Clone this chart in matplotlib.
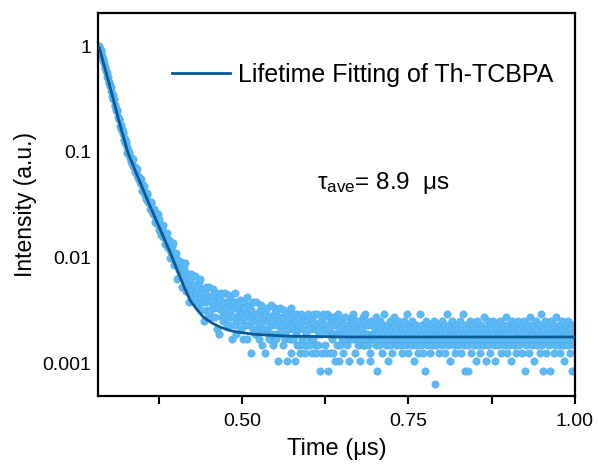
import numpy as np
import matplotlib
matplotlib.use("Agg")
import matplotlib.pyplot as plt
from matplotlib.ticker import FixedLocator, NullFormatter

plt.rcParams['font.family'] = ['Liberation Sans', 'DejaVu Sans']
plt.rcParams['mathtext.fontset'] = 'custom'
plt.rcParams['mathtext.rm'] = 'Liberation Sans'
plt.rcParams['mathtext.it'] = 'Liberation Sans:italic'

# measured decay: photon counts per channel, 0.001 us per channel
t_start = 0.286
t_step = 0.001
counts = np.array([
    4760, 4436, 4322, 4140, 3805, 3571, 3441, 3318, 2991, 2952,
    2754, 2666, 2445, 2447, 2164, 2123, 1973, 1933, 1790, 1621,
    1631, 1506, 1490, 1330, 1295, 1185, 1171, 1149, 1015, 976,
    963, 830, 848, 784, 777, 697, 733, 615, 627, 575,
    583, 532, 466, 497, 454, 473, 412, 418, 380, 396,
    405, 349, 345, 340, 304, 327, 328, 284, 266, 273,
    268, 245, 261, 236, 201, 230, 209, 225, 187, 194,
    171, 185, 194, 158, 160, 159, 137, 155, 159, 131,
    122, 129, 137, 102, 122, 110, 118, 98, 122, 86,
    110, 85, 92, 78, 90, 97, 75, 76, 78, 64,
    78, 81, 64, 58, 64, 70, 47, 62, 54, 61,
    47, 65, 40, 50, 43, 52, 43, 30, 45, 38,
    36, 32, 37, 43, 25, 37, 32, 37, 28, 42,
    23, 32, 26, 33, 27, 18, 30, 24, 33, 21,
    26, 19, 26, 32, 20, 22, 24, 17, 25, 28,
    18, 30, 15, 22, 18, 24, 20, 12, 22, 18,
    25, 15, 19, 14, 20, 25, 15, 18, 19, 13,
    21, 24, 16, 13, 17, 22, 10, 19, 16, 20,
    9, 19, 15, 22, 13, 17, 12, 18, 22, 13, 15, 16, 11, 18, 21,
    13, 11, 15, 19, 8, 17, 13, 18, 11, 22, 9, 16, 12, 18, 14,
    17, 19, 12, 10, 14, 18, 8, 16, 13, 16, 11, 20, 8, 14, 11,
    17, 13, 6, 15, 12, 18, 10, 13, 9, 14, 18, 10, 12, 13, 8,
    11, 15, 10, 17, 7, 13, 10, 15, 12, 6, 14, 10, 16, 9, 12,
    8, 13, 17, 9, 11, 12, 7, 14, 16, 9, 8, 11, 15, 5, 13,
    12, 16, 9, 10, 11, 7, 13, 15, 9, 8, 11, 14, 5, 12, 10,
    13, 8, 16, 6, 11, 8, 14, 10, 5, 12, 9, 14, 7, 10, 7,
    11, 6, 12, 14, 8, 7, 10, 13, 6, 12, 9, 12, 7, 14, 7,
    11, 8, 13, 10, 6, 12, 8, 14, 7, 10, 6, 11, 14, 7, 9,
    10, 4, 12, 9, 6, 11, 14, 13, 7, 10, 6, 11, 14, 4, 9,
    10, 6, 12, 13, 8, 6, 9, 13, 5, 11, 9, 12, 7, 14, 5,
    10, 7, 12, 9, 8, 11, 6, 9, 13, 8, 10, 7, 9, 11, 5,
    10, 8, 12, 9, 13, 14, 8, 10, 6, 9, 11, 8, 12, 7, 10,
    9, 5, 11, 8, 10, 13, 7, 9, 7, 14, 8, 12, 9, 11, 7,
    8, 5, 6, 12, 9, 8, 11, 8, 9, 10, 13, 7, 4, 11, 9,
    7, 10, 12, 8, 6, 9, 11, 8, 14, 9, 7, 10, 8, 5, 11,
    9, 12, 7, 8, 10, 6, 9, 11, 13, 8, 10, 7, 9, 12, 8,
    8, 11, 7, 9, 6, 10, 8, 12, 9, 7, 10, 8, 14, 9, 6,
    11, 8, 10, 7, 9, 12, 8, 5, 10, 9, 7, 11, 8, 9, 6,
    10, 14, 8, 7, 9, 11, 6, 10, 8, 4, 9, 12, 7, 8, 10,
    9, 6, 11, 8, 7, 10, 9, 12, 8, 3, 9, 7, 10, 11, 8,
    6, 9, 10, 8, 12, 7, 9, 11, 8, 6, 10, 9, 14, 7, 8,
    11, 9, 5, 10, 8, 12, 9, 7, 10, 6, 8, 11, 9, 7, 10,
    8, 12, 9, 6, 10, 8, 14, 7, 9, 4, 11, 8, 10, 7, 4,
    9, 12, 8, 6, 10, 9, 11, 7, 8, 10, 5, 9, 12, 8, 7,
    10, 9, 6, 11, 8, 10, 7, 13, 9, 8, 5, 10, 9, 12, 7,
    8, 11, 6, 9, 10, 8, 12, 7, 9, 5, 11, 8, 10, 9, 7,
    9, 12, 8, 6, 10, 9, 11, 7, 8, 10, 13, 9, 6, 8, 11,
    7, 10, 9, 5, 12, 8, 10, 7, 9, 11, 6, 8, 10, 9, 12,
    7, 9, 10, 8, 6, 11, 9, 8, 12, 4, 10, 7, 9, 11, 8,
    6, 10, 13, 8, 9, 7, 11, 9, 5, 10, 8, 12, 7, 9, 10,
    8, 6, 11, 14, 9, 7, 4, 10, 8, 12, 9, 6, 11, 8, 10,
    7, 9, 4, 12, 8, 10, 9, 6, 11, 7, 9, 13, 8, 10, 7,
    9, 11, 6, 8, 10, 12, 7, 9, 5, 10, 8, 11, 9, 7, 12,
    8, 6, 10, 9, 11, 4, 8, 10, 7, 9,
])
time = t_start + t_step * np.arange(len(counts))
intensity = counts / counts.max()

# fitted curve
fit_time = [0.286, 0.302, 0.317, 0.329, 0.347, 0.362, 0.377, 0.392, 0.404,
            0.413, 0.422, 0.432, 0.442, 0.455, 0.467, 0.480, 0.493, 0.517,
            0.542, 0.572, 0.662, 1.000]
fit_int = [0.96, 0.409, 0.179, 0.0972, 0.0516, 0.0306, 0.0186, 0.01125, 0.00727,
           0.0053, 0.00395, 0.00324, 0.00273, 0.0024, 0.0022, 0.00205, 0.00197, 0.00188,
           0.00184, 0.0018, 0.00177, 0.00177]

fig = plt.figure(figsize=(5.98, 4.68), dpi=100)
ax = fig.add_axes([0.164, 0.154, 0.7975, 0.818])

ax.scatter(time, intensity, s=28, color='#5DB9F5', edgecolors='#4BABEE',
           linewidths=0.4, zorder=2)
ax.plot(fit_time, fit_int, color='#0B5A96', lw=2, zorder=3,
        label='Lifetime Fitting of Th-TCBPA')

ax.set_yscale('log')
ax.set_xlim(0.284, 1.0)
ax.set_ylim(4.9e-4, 2.05)

ax.set_yticks([1, 0.1, 0.01, 0.001])
ax.set_yticklabels(['1', '0.1', '0.01', '0.001'])
ax.yaxis.set_minor_formatter(NullFormatter())
ax.tick_params(axis='y', which='both', length=0, labelsize=14, pad=5)

ax.xaxis.set_major_locator(FixedLocator([0.5, 0.75, 1.0]))
ax.xaxis.set_minor_locator(FixedLocator([0.375, 0.625, 0.875]))
ax.set_xticklabels(['0.50', '0.75', '1.00'])
ax.tick_params(axis='x', which='both', direction='out', length=6, width=1.5,
               labelsize=14, pad=6)

for s in ax.spines.values():
    s.set_linewidth(1.6)

ax.set_xlabel('Time (μs)', fontsize=17, labelpad=6)
ax.set_ylabel('Intensity (a.u.)', fontsize=16.5, labelpad=4)

ax.legend(loc='center right', bbox_to_anchor=(0.954, 0.838), frameon=False,
          fontsize=18, handlelength=2.3, handletextpad=0.32, borderpad=0,
          borderaxespad=0)

ax.text(0.459, 0.556, r'$\mathregular{\tau_{ave}}$= 8.9  μs', transform=ax.transAxes,
        fontsize=17.5, ha='left', va='center')

fig.savefig('out.png', dpi=100)
